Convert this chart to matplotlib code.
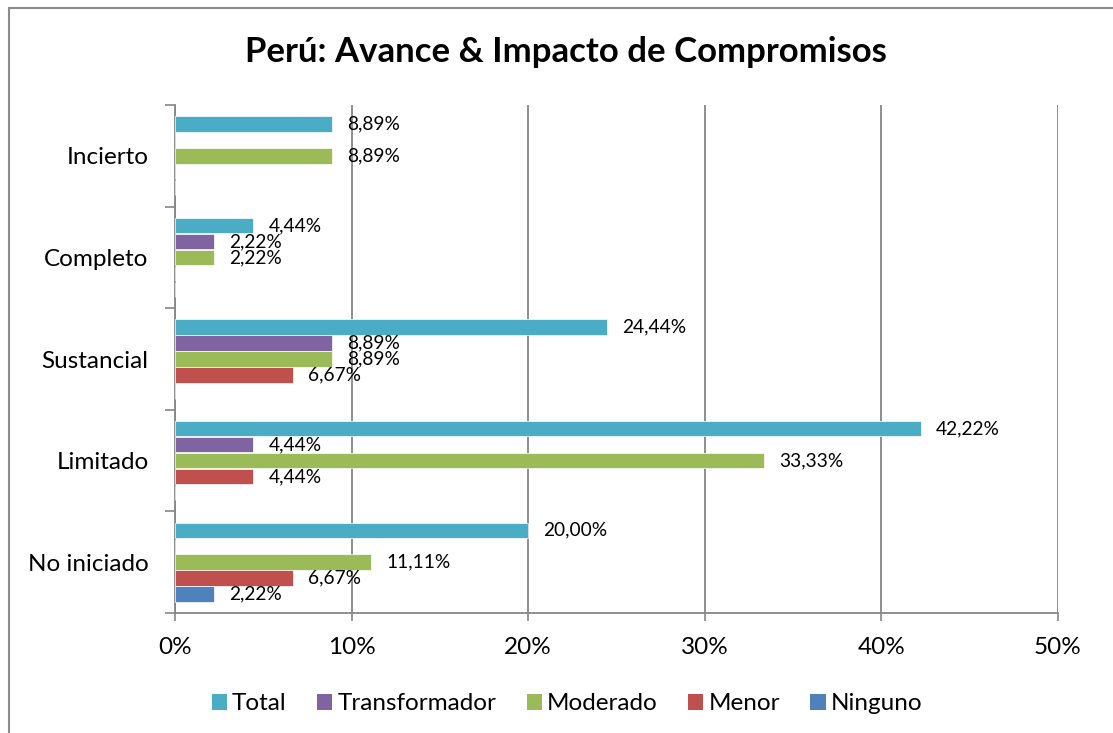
import matplotlib.pyplot as plt
from matplotlib.patches import Patch, Rectangle

categories = ['No iniciado', 'Limitado', 'Sustancial', 'Completo', 'Incierto']
series = ['Total', 'Transformador', 'Moderado', 'Menor', 'Ninguno']
total = [20.00, 42.22, 24.44, 4.44, 8.89]
transformador = [0, 4.44, 8.89, 2.22, 0]
moderado = [11.11, 33.33, 8.89, 2.22, 8.89]
menor = [6.67, 4.44, 6.67, 0, 0]
ninguno = [2.22, 0, 0, 0, 0]
colors = ['#4BACC6', '#8064A2', '#9BBB59', '#C0504D', '#4F81BD']
xticks = [0, 10, 20, 30, 40, 50]

plt.rcParams['font.family'] = ['Lato', 'DejaVu Sans']

W, H = 1113, 733
fig = plt.figure(figsize=(W / 100, H / 100), dpi=100)
ax = fig.add_axes([175 / W, (H - 613) / H, (1058 - 175) / W, (613 - 105) / H])

# outer chart border (top and left visible, rest runs off the image)
fig.patches.append(Rectangle((9 / W, -0.1), 1.2, 1.1 - 8 / H, transform=fig.transFigure,
                             fill=False, edgecolor='#8c8c8c', linewidth=1.5))

grey = '#868686'
bar_h = 0.152
step = 0.157
values = [total, transformador, moderado, menor, ninguno]
for j, (name, vals) in enumerate(zip(series, values)):
    ys = [i + (2 - j) * step for i in range(len(categories))]
    ax.barh(ys, vals, height=bar_h, color=colors[j], edgecolor='white', linewidth=0.5,
            label=name, zorder=3)
    for y, v in zip(ys, vals):
        if v > 0:
            ax.annotate(f'{v:.2f}'.replace('.', ',') + '%', (v, y), xytext=(11, 0),
                        textcoords='offset points', ha='left', va='center', fontsize=13.8,
                        zorder=4)

ax.set_xlim(0, 50)
ax.set_ylim(-0.5, 4.5)
ax.set_xticks(xticks)
ax.set_xticklabels([f'{t}%' for t in xticks], fontsize=17.5)
ax.set_yticks(range(len(categories)))
ax.set_yticklabels(categories, fontsize=17.5)
ax.set_yticks([i - 0.5 for i in range(len(categories) + 1)], minor=True)
ax.tick_params(axis='y', which='major', length=0, pad=19)
ax.tick_params(axis='y', which='minor', length=7, color=grey, width=1.2)
ax.tick_params(axis='x', length=6, color=grey, width=1.2, pad=11)
ax.xaxis.grid(True, color=grey, linewidth=1.3, zorder=0)
for s in ['top', 'right']:
    ax.spines[s].set_visible(False)
for s in ['left', 'bottom']:
    ax.spines[s].set_color(grey)
    ax.spines[s].set_linewidth(1.3)

fig.text(566 / W, 1 - 52 / H, 'Perú: Avance & Impacto de Compromisos', ha='center', va='center',
         fontsize=25, fontweight='bold')

handles = [Patch(facecolor=c, label=n) for c, n in zip(colors, series)]
fig.legend(handles=handles, loc='center', bbox_to_anchor=(567 / W, 1 - 704 / H), ncol=5,
           frameon=False, fontsize=17.5, handlelength=0.62, handleheight=0.62,
           handletextpad=0.22, columnspacing=1.25)

fig.savefig('out.png', dpi=100)
